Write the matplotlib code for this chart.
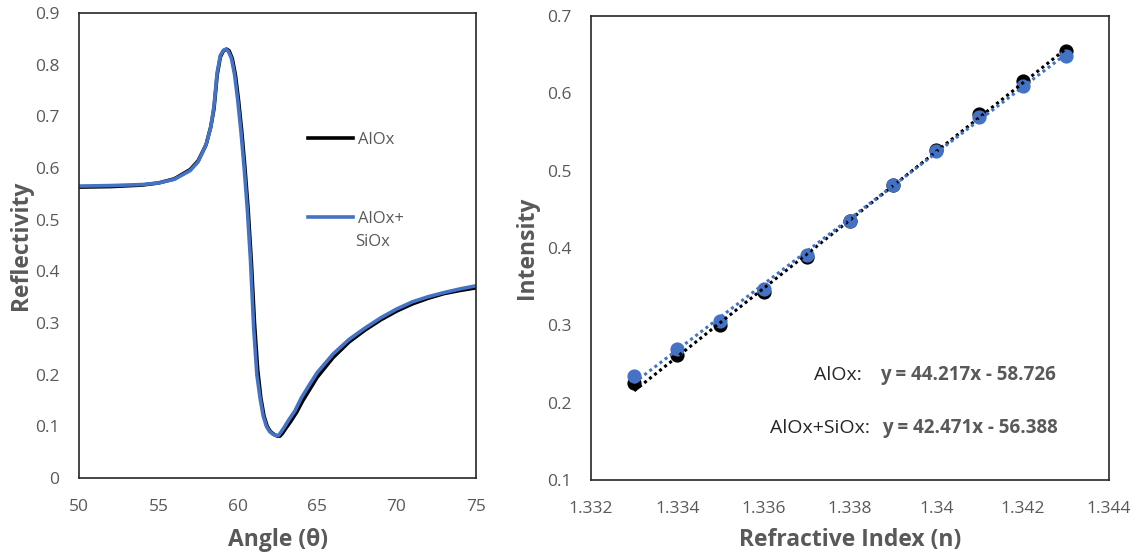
import numpy as np
import matplotlib
matplotlib.use('Agg')
import matplotlib.pyplot as plt

plt.rcParams['font.family'] = ['Open Sans', 'DejaVu Sans']

# left panel: reflectivity curves
angle_alox = [50, 52, 54, 55, 56, 57, 57.5, 58, 58.3, 58.5, 58.7, 58.9, 59.1, 59.3,
              59.45, 59.65, 59.85, 60.05, 60.25, 60.45, 60.65, 60.85, 61.05, 61.25,
              61.45, 61.65, 61.85, 62.05, 62.3, 62.5, 62.65, 62.8, 63.0, 63.3, 63.7,
              64.1, 64.6, 65, 66, 67, 68, 69, 70, 71, 72, 73, 74, 75]
refl_alox = [0.563, 0.564, 0.567, 0.571, 0.579, 0.597, 0.614, 0.645, 0.68, 0.715,
             0.78, 0.815, 0.827, 0.830, 0.827, 0.812, 0.78, 0.73, 0.67, 0.60, 0.52,
             0.42, 0.30, 0.21, 0.155, 0.12, 0.10, 0.09, 0.084, 0.081, 0.081, 0.086,
             0.095, 0.108, 0.127, 0.15, 0.175, 0.195, 0.233, 0.263, 0.286, 0.306,
             0.323, 0.337, 0.348, 0.357, 0.363, 0.368]

angle_sio = [50, 52, 54, 55, 56, 57, 57.5, 58, 58.3, 58.5, 58.7, 58.9, 59.1, 59.25,
             59.4, 59.6, 59.8, 60.0, 60.2, 60.4, 60.6, 60.8, 61.0, 61.2, 61.4, 61.6,
             61.8, 62.0, 62.2, 62.4, 62.55, 62.7, 62.9, 63.2, 63.6, 64.0, 64.5, 65,
             66, 67, 68, 69, 70, 71, 72, 73, 74, 75]
refl_sio = [0.565, 0.566, 0.568, 0.571, 0.578, 0.595, 0.612, 0.645, 0.68, 0.72,
            0.785, 0.818, 0.828, 0.830, 0.826, 0.812, 0.78, 0.73, 0.67, 0.60, 0.52,
            0.42, 0.29, 0.20, 0.155, 0.12, 0.10, 0.09, 0.085, 0.082, 0.082, 0.088,
            0.097, 0.112, 0.13, 0.155, 0.18, 0.204, 0.24, 0.268, 0.29, 0.31, 0.327,
            0.341, 0.351, 0.359, 0.366, 0.372]

# right panel: intensity vs refractive index
ref_index = [1.333, 1.334, 1.335, 1.336, 1.337, 1.338, 1.339, 1.340, 1.341, 1.342, 1.343]
int_alox = [0.225, 0.262, 0.301, 0.343, 0.388, 0.435, 0.481, 0.527, 0.573, 0.616, 0.655]
int_sio = [0.234, 0.269, 0.306, 0.347, 0.391, 0.435, 0.481, 0.525, 0.569, 0.610, 0.648]
fit_slope = [44.217, 42.471]
fit_icpt = [-58.726, -56.388]

BLACK = '#000000'
BLUE = '#4472C4'
GREY = '#595959'

fig = plt.figure(figsize=(11.42, 5.58), dpi=100)
ax1 = fig.add_axes([0.0692, 0.1434, 0.3476, 0.8333])
ax2 = fig.add_axes([0.5175, 0.1398, 0.4536, 0.8315])

ax1.plot(angle_alox, refl_alox, color=BLACK, lw=2.6, label='AlOx')
ax1.plot(angle_sio, refl_sio, color=BLUE, lw=2.6, label='AlOx+')
ax1.set_xlim(50, 75)
ax1.set_ylim(0, 0.9)
ax1.set_xticks(np.arange(50, 76, 5))
ax1.set_yticks(np.arange(0, 0.91, 0.1))
ax1.set_yticklabels(['0'] + ['%.1f' % v for v in np.arange(0.1, 0.91, 0.1)])
ax1.set_xlabel('Angle (θ)', fontsize=16.5, fontweight='bold', color=GREY)
ax1.set_ylabel('Reflectivity', fontsize=16.5, fontweight='bold', color=GREY)
ax1.xaxis.set_label_coords(0.5, -0.133)
ax1.yaxis.set_label_coords(-0.145, 0.5)
leg = ax1.legend(loc='upper left', bbox_to_anchor=(0.54, 0.777), frameon=False,
                 fontsize=12, handlelength=2.7, handletextpad=0.3, labelspacing=3.78)
for t in leg.get_texts():
    t.set_color(GREY)
# second line of the blue legend entry
ax1.text(0.695, 0.5075, 'SiOx', transform=ax1.transAxes, ha='left', va='center',
         fontsize=12, color=GREY)

ax2.scatter(ref_index, int_alox, s=85, color=BLACK, zorder=3)
ax2.scatter(ref_index, int_sio, s=85, color=BLUE, zorder=4)
xs = np.array([ref_index[0], ref_index[-1]])
ax2.plot(xs, fit_slope[0] * xs + fit_icpt[0], color=BLACK, lw=2.2,
         ls=(0, (1, 1.1)), zorder=5)
ax2.plot(xs, fit_slope[1] * xs + fit_icpt[1], color=BLUE, lw=2.2,
         ls=(0, (1, 1.1)), zorder=5)
ax2.set_xlim(1.332, 1.344)
ax2.set_ylim(0.1, 0.7)
ax2.set_xticks(np.arange(1.332, 1.3445, 0.002))
ax2.set_xticklabels(['1.332', '1.334', '1.336', '1.338', '1.34', '1.342', '1.344'])
ax2.set_yticks(np.arange(0.1, 0.71, 0.1))
ax2.set_yticklabels(['%.1f' % v for v in np.arange(0.1, 0.71, 0.1)])
ax2.set_xlabel('Refractive Index (n)', fontsize=16.5, fontweight='bold', color=GREY)
ax2.set_ylabel('Intensity', fontsize=16.5, fontweight='bold', color=GREY)
ax2.xaxis.set_label_coords(0.5, -0.129)
ax2.yaxis.set_label_coords(-0.1236, 0.5)

ax2.text(1.33828, 0.2358, 'AlOx:', ha='right', va='center', fontsize=14, color='#262626')
ax2.text(1.33869, 0.2358, 'y = 44.217x - 58.726', ha='left', va='center',
         fontsize=13.5, fontweight='bold', color=GREY)
ax2.text(1.33846, 0.1673, 'AlOx+SiOx:', ha='right', va='center', fontsize=14, color='#262626')
ax2.text(1.33874, 0.1673, 'y = 42.471x - 56.388', ha='left', va='center',
         fontsize=13.5, fontweight='bold', color=GREY)

for ax in (ax1, ax2):
    for sp in ax.spines.values():
        sp.set_color('#262626')
        sp.set_linewidth(1.2)
    ax.xaxis.label.set_va('center')
    ax.yaxis.label.set_va('center')
    ax.tick_params(length=0, labelsize=12.5, labelcolor=GREY)
    ax.tick_params(axis='y', pad=14)
    ax.tick_params(axis='x', pad=15)

fig.savefig('out.png', dpi=100)
